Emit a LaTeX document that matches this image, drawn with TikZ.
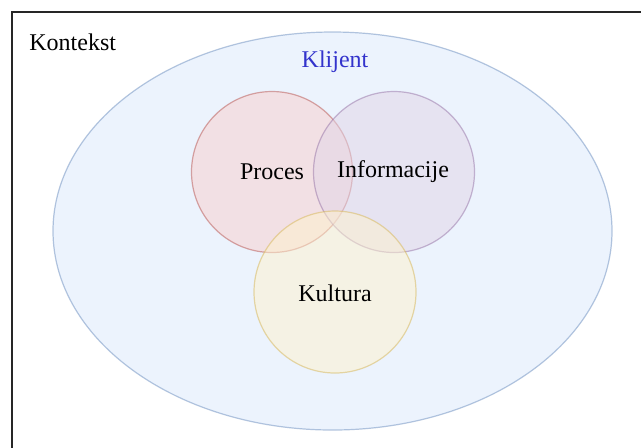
\documentclass[tikz,border=0pt]{standalone}
\usepackage{fontspec}
\setmainfont{Liberation Serif}
\usetikzlibrary{shapes.geometric}
\definecolor{ellfill}{HTML}{DAE8FC}
\definecolor{elldraw}{HTML}{6C8EBF}
\definecolor{redfill}{HTML}{F8CECC}
\definecolor{reddraw}{HTML}{B85450}
\definecolor{purfill}{HTML}{E1D5E7}
\definecolor{purdraw}{HTML}{9673A6}
\definecolor{yelfill}{HTML}{FFF2CC}
\definecolor{yeldraw}{HTML}{D6B656}
\definecolor{klijentblue}{HTML}{3333CC}
\tikzset{
  venn/.style={circle, inner sep=0pt, line width=0.6pt, fill opacity=0.5, draw opacity=0.5, text opacity=1},
  lbl/.style={font=\fontsize{12}{14}\selectfont, inner sep=0pt}
}
\begin{document}
\begin{tikzpicture}[x=0.5pt, y=-0.5pt]
\useasboundingbox (0,0) rectangle (641,447);
\clip (0,0) rectangle (641,447);
\fill[white] (0,0) rectangle (641,447);
\draw[line width=1pt, black!85] (12,12) rectangle (700,500);
\node[lbl, anchor=west] (kontekst) at (29,42) {Kontekst};
\node[ellipse, draw=elldraw, fill=ellfill, fill opacity=0.5, draw opacity=0.5, line width=0.6pt, minimum width=279.5pt, minimum height=199pt, inner sep=0pt] (klijentell) at (332.5,231) {};
\node[lbl, text=klijentblue] (klijent) at (335,62) {Klijent};
\node[venn, draw=reddraw, fill=redfill, minimum size=80.5pt] (proces) at (272,172) {};
\node[venn, draw=purdraw, fill=purfill, minimum size=80.5pt] (info) at (394,172) {};
\node[venn, draw=yeldraw, fill=yelfill, minimum size=81pt] (kultura) at (335,292) {};
\node[lbl] (procest) at (272,172) {Proces};
\node[lbl] (infot) at (393,172) {Informacije};
\node[lbl] (kulturat) at (335,293) {Kultura};
\end{tikzpicture}
\end{document}
